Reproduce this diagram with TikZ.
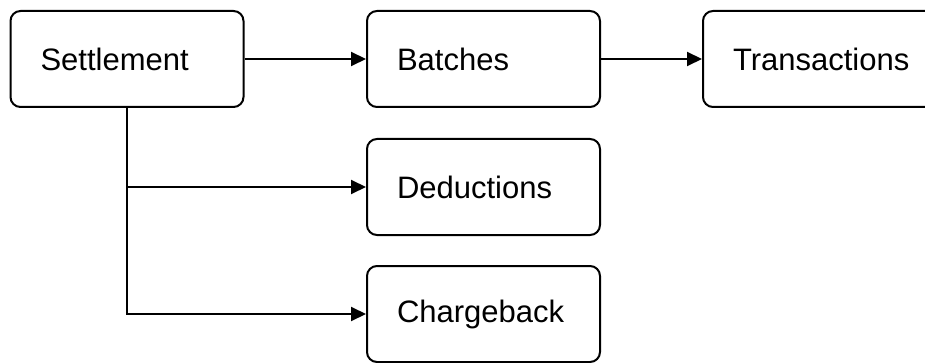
\documentclass[tikz,border=0pt]{standalone}
\usepackage{fontspec}
\setmainfont{Liberation Sans}
\usetikzlibrary{arrows.meta,positioning}

\begin{document}
\begin{tikzpicture}[
		x=0.5pt, y=-0.5pt,
		box/.style={draw, line width=1pt, rounded corners=5pt, minimum height=48pt,
			text width=86.5pt, inner xsep=15pt, align=left,
			font=\fontsize{15.5}{18}\selectfont},
		link/.style={line width=1pt, -{Triangle[length=7.5pt,width=7pt]}}
		]

		% page frame
		\useasboundingbox (0,0) rectangle (925,363);
		\clip (0,0) rectangle (925,363);

		% --- top row ---
		\node[box] (settle) at (127, 59) {Settlement};
		\node[box] (batch)  at (483.5, 59) {Batches};
		\node[box] (trans)  at (819.5, 59) {Transactions};

		% --- below batches ---
		\node[box] (deduct) at (483.5, 187) {Deductions};
		\node[box] (charge) at (483.5, 314) {Chargeback};

		% Arrows
		\draw[link] (settle) -- (batch);
		\draw[link] (batch) -- (trans);
		\draw[link] (settle.south) |- (deduct.west);
		\draw[link] (settle.south) |- (charge.west);

	\end{tikzpicture}
\end{document}
